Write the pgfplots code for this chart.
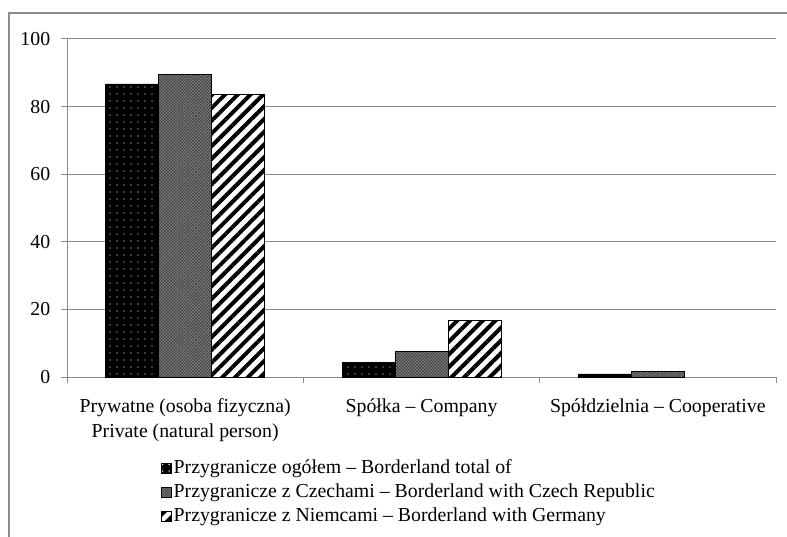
\documentclass[border=0pt]{standalone}
\usepackage{fontspec}
\setmainfont{Liberation Serif}
\usepackage{pgfplots}
\pgfplotsset{compat=1.18}
\usetikzlibrary{patterns,patterns.meta}
\begin{document}
\fontsize{19.8}{24.5}\selectfont
\begin{tikzpicture}[x=1pt,y=1pt]
\path[use as bounding box] (0,0) rectangle (787,536);
\draw[black!45, line width=1.6pt] (9,-20) -- (9,523) -- (800,523);
\begin{axis}[
  at={(67pt,159pt)}, anchor=south west,
  scale only axis, width=709pt, height=338pt,
  ybar=0pt, bar width=53pt,
  xmin=-0.5, xmax=2.5, ymin=0, ymax=100,
  ytick={0,20,40,60,80,100},
  ymajorgrids, grid style={black!45, line width=1pt},
  axis x line*=bottom, axis y line*=left,
  axis line style={black!45, line width=1pt, -},
  tick style={black!45, line width=1pt},
  tick align=outside, major tick length=6pt,
  xtick={-0.5,0.5,1.5,2.5},
  x tick label as interval,
  xticklabels={{Prywatne (osoba fizyczna)\\Private (natural person)},{Spółka – Company},{Spółdzielnia – Cooperative}},
  xticklabel style={align=center, font=\fontsize{19.8}{24.5}\selectfont, text=black, yshift=-9pt},
  yticklabel style={font=\fontsize{19.8}{24.5}\selectfont, text=black, xshift=-4pt},
  /pgf/number format/assume math mode=true,
  legend style={at={(0.128,-0.232)}, anchor=north west, draw=none, fill=none,
    font=\fontsize{19.8}{24.5}\selectfont, row sep=3.5pt,
    /tikz/every even column/.append style={column sep=0pt}},
  legend cell align=left,
  legend image code/.code={\draw[#1, line width=0.7pt] (0pt,-5pt) rectangle (10pt,5pt);},
]
\addplot[draw=black, line width=0.8pt, fill=black,
  postaction={pattern={Dots[distance=6.5pt, radius=0.75pt]}, pattern color=white}]
  coordinates {(0,86.7) (1,4.2) (2,0.9)};
\addplot[draw=black, line width=0.8pt, fill=black!50,
  postaction={pattern={Hatch[angle=45, distance=2.2pt, line width=0.5pt]}, pattern color=black!75}]
  coordinates {(0,89.6) (1,7.6) (2,1.6)};
\addplot[draw=black, line width=0.8pt, fill=white,
  postaction={pattern={Lines[angle=45, distance=9pt, line width=4pt]}, pattern color=black}]
  coordinates {(0,83.5) (1,16.8)};
\legend{Przygranicze ogółem – Borderland total of,
        Przygranicze z Czechami – Borderland with Czech Republic,
        Przygranicze z Niemcami – Borderland with Germany}
\end{axis}
\end{tikzpicture}
\end{document}
